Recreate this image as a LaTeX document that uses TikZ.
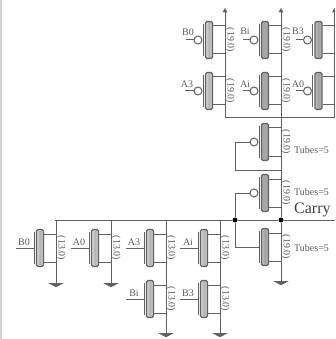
\documentclass[tikz,border=0pt]{standalone}
\usepackage{fontspec}
\setmainfont{Liberation Serif}
\usetikzlibrary{shapes.geometric}
\definecolor{wire}{gray}{0.38}
\definecolor{txt}{gray}{0.35}
\tikzset{
wire/.style={draw=wire,line width=1pt},
tube/.style={draw=wire,line width=1.2pt,rounded corners=1.5pt,minimum width=7pt,minimum height=37pt,inner sep=0pt},
tubelight/.style={tube,left color=gray!30,right color=gray!30,middle color=gray!60},
tubemid/.style={tube,left color=gray!50,right color=gray!50,middle color=gray!75},
tubedark/.style={tube,fill=gray!70},
bubble/.style={circle,draw=wire,line width=1pt,fill=white,minimum size=8pt,inner sep=0pt},
dot/.style={circle,fill=black,minimum size=5pt,inner sep=0pt},
gnd/.style={isosceles triangle,shape border rotate=-90,isosceles triangle apex angle=125,fill=wire,minimum height=4pt,minimum width=11pt,inner sep=0pt},
vdd/.style={regular polygon,regular polygon sides=3,fill=wire,minimum size=6pt,inner sep=0pt},
size/.style={font=\fontsize{10}{10}\selectfont,text=txt,rotate=-90,inner sep=0pt},
lab/.style={font=\fontsize{10}{10}\selectfont,text=txt,inner sep=0pt},
}
% one transistor: name, x, y, look
\newcommand{\tubeT}[4]{
\node[#4] (#1) at (#2,#3) {};
\coordinate (#1d) at (#2+16,#3-14);
\coordinate (#1s) at (#2+16,#3+14);
\coordinate (#1g) at (#2-6,#3);
\draw[wire] (#1.east |- #1d) -- (#1d) -- (#1s) -- (#1.east |- #1s);
\draw[wire] (#2-6,#3-16) -- (#2-6,#3+16);
}
\begin{document}
\begin{tikzpicture}[x=1pt,y=-1pt]
\useasboundingbox (0,0) rectangle (335,339);
\clip (0,0) rectangle (335,339);
\fill[gray!35] (0,0) rectangle (2,339);
% pull up
\foreach \n/\x/\y/\k in {bzero/209/40/tubelight,bi/265/40/tubedark,bthree/318.5/40/tubemid,
athree/209/91/tubelight,ai/265/91/tubedark,azero/318.5/91/tubemid,
tubea/265/142/tubedark,tubeb/265/193/tubedark}
{\tubeT{\n}{\x}{\y}{\k}
\node[bubble] (\n b) at (\x-11,\y) {};
\draw[wire] (\n g) -- (\n b);}
\foreach \n/\t/\lx/\ly/\y in {bzero/B0/188/32/40,bi/Bi/245/31/40,bthree/B3/298/31/40,
athree/A3/187/84/91,ai/Ai/245/84/91,azero/A0/298/84/91}
{\coordinate (\n l) at (\lx-2,\y);
\draw[wire] (\n b) -- (\n l);
\node[lab] (\n t) at (\lx,\ly) {\t};}
\foreach \n/\x/\y in {bzero/230/40,bi/286/40,athree/230/91,ai/286/91,tubea/286/142,tubeb/286/193,out/286/247}
{\node[size] (\n z) at (\x,\y) {(19.0)};}
% pull down
\tubeT{out}{265}{247}{tubemid}
\foreach \n/\x/\y/\k/\t in {nbzero/40/248/tubelight/B0,nazero/95/248/tubelight/A0,
nathree/150/248/tubelight/A3,nai/204/248/tubelight/Ai,nbi/150/299/tubelight/Bi,nbthree/204/299/tubelight/B3}
{\tubeT{\n}{\x}{\y}{\k}
\coordinate (\n l) at (\x-24,\y);
\draw[wire] (\n g) -- (\n l);
\node[lab] (\n t) at (\x-16,\y-5.5) {\t};
\node[size] (\n z) at (\x+21,\y) {(13.0)};}
% rails
\foreach \n/\a/\x in {vddone/bzero/225,vddtwo/bi/281,vddthree/bthree/334.5}
{\node[vdd] (\n) at (\x,11) {};
\draw[wire] (\a d) -- (\n.center);}
\draw[wire] (bzeros) -- (athreed);
\draw[wire] (bis) -- (aid);
\draw[wire] (bthrees) -- (azerod);
\coordinate (busl) at (225,118);
\coordinate (busr) at (334.5,118);
\draw[wire] (athrees) -- (busl) -- (busr);
\draw[wire] (azeros) -- (busr);
\draw[wire] (ais) -- (tubead);
\draw[wire] (tubeas) -- (tubebd);
% carry line
\coordinate (carryl) at (55,220);
\coordinate (carryr) at (335,220);
\node[dot] (ja) at (235,220) {};
\node[dot] (jb) at (281,220) {};
\draw[wire] (carryl) -- (ja) -- (jb) -- (carryr);
\draw[wire] (tubebs) -- (jb) -- (outd);
\coordinate (fba) at (235,142);
\coordinate (fbb) at (235,170);
\draw[wire] (tubeab) -- (fba) -- (fbb) -- (fbb -| tubebd);
\coordinate (fbc) at (235,193);
\draw[wire] (tubebb) -- (fbc) -- (ja);
\coordinate (fbd) at (235,247);
\draw[wire] (ja) -- (fbd) -- (outg);
\draw[wire] (nbzerod) -- (nbzerod |- carryl);
\draw[wire] (nazerod) -- (nazerod |- carryl);
\draw[wire] (nathreed) -- (nathreed |- carryl);
\draw[wire] (naid) -- (naid |- carryl);
\draw[wire] (nathrees) -- (nbid);
\draw[wire] (nais) -- (nbthreed);
% grounds
\foreach \n/\a/\x/\y in {gout/out/281/281,gbzero/nbzero/56/283,gazero/nazero/111/283,gbi/nbi/166/333,gbthree/nbthree/220/333}
{\node[gnd,anchor=north] (\n) at (\x,\y) {};
\draw[wire] (\a s) -- (\n.north);}
% labels
\foreach \n/\y in {tubesa/150,tubesb/192,tubesc/248}
{\node[lab,anchor=west] (\n) at (294,\y) {Tubes=5};}
\node[anchor=west,inner sep=0pt,text=black!75,font=\fontsize{16}{16}\selectfont] (carry) at (294,210) {Carry};
\end{tikzpicture}
\end{document}
